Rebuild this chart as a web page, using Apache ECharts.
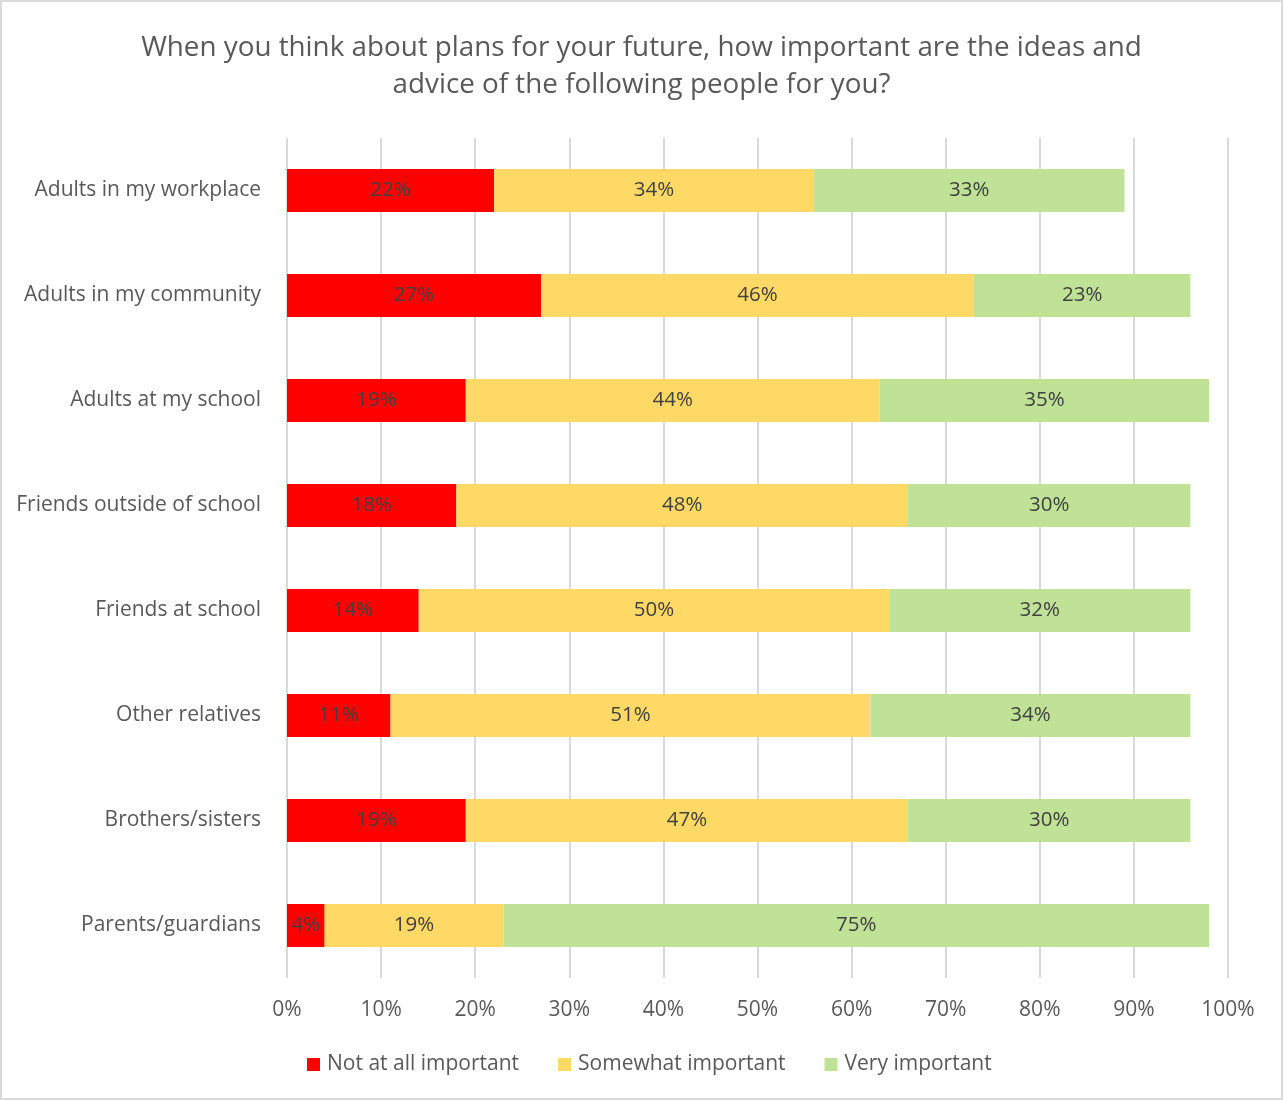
<!DOCTYPE html>
<html>
<head>
<meta charset="utf-8">
<script src="https://cdn.jsdelivr.net/npm/echarts@6/dist/echarts.min.js"></script>
<style>
  html, body { margin: 0; padding: 0; background: #fff; }
  #chart { width: 1283px; height: 1100px; box-sizing: border-box; border: 2px solid #d9d9d9; }
</style>
</head>
<body>
<div id="chart"></div>
<script>
// Survey groups, top to bottom
const categories = [
  'Adults in my workplace',
  'Adults in my community',
  'Adults at my school',
  'Friends outside of school',
  'Friends at school',
  'Other relatives',
  'Brothers/sisters',
  'Parents/guardians'
];

// Share of answers (%) per group
const notAtAll = [22, 27, 19, 18, 14, 11, 19, 4];
const somewhat = [34, 46, 44, 48, 50, 51, 47, 19];
const very     = [33, 23, 35, 30, 32, 34, 30, 75];

const seriesNames = ['Not at all important', 'Somewhat important', 'Very important'];
const xTicks = [0, 10, 20, 30, 40, 50, 60, 70, 80, 90, 100];

const FONT = '"Open Sans", sans-serif';

const chart = echarts.init(document.getElementById('chart'));

function barSeries(name, values, color) {
  return {
    name: name,
    type: 'bar',
    stack: 'total',
    data: values,
    barCategoryGap: '59%',
    itemStyle: { color: color },
    label: {
      show: true,
      position: 'inside',
      formatter: '{c}%',
      color: '#404040',
      fontFamily: FONT,
      fontSize: 20.5
    },
    emphasis: { disabled: true }
  };
}

chart.setOption({
  animation: false,
  textStyle: { fontFamily: FONT },
  title: {
    text: 'When you think about plans for your future, how important are the ideas and\nadvice of the following people for you?',
    left: 'center',
    top: 23,
    textStyle: {
      fontFamily: FONT,
      fontSize: 27.8,
      fontWeight: 'normal',
      color: '#595959',
      lineHeight: 37
    }
  },
  legend: {
    bottom: 18,
    left: 300,
    icon: 'rect',
    itemWidth: 13,
    itemHeight: 13,
    itemGap: 39,
    data: seriesNames,
    textStyle: { fontFamily: FONT, fontSize: 21, color: '#595959', padding: [0, 0, 0, 2] }
  },
  grid: {
    left: 285,
    right: 53,
    top: 136,
    bottom: 120,
    containLabel: false
  },
  xAxis: {
    type: 'value',
    min: xTicks[0],
    max: xTicks[xTicks.length - 1],
    interval: 10,
    axisLabel: {
      formatter: '{value}%',
      color: '#595959',
      fontFamily: FONT,
      fontSize: 21,
      margin: 22
    },
    axisLine: { show: false },
    axisTick: { show: false },
    splitLine: { show: true, lineStyle: { color: '#d9d9d9', width: 2 } }
  },
  yAxis: {
    type: 'category',
    inverse: true,
    data: categories,
    axisLine: { show: false },
    axisTick: { show: false },
    axisLabel: {
      color: '#595959',
      fontFamily: FONT,
      fontSize: 21,
      margin: 26,
      padding: [0, 0, 5, 0]
    }
  },
  series: [
    barSeries(seriesNames[0], notAtAll, '#ff0000'),
    barSeries(seriesNames[1], somewhat, '#ffd966'),
    barSeries(seriesNames[2], very, '#bfe297')
  ]
});
</script>
</body>
</html>
